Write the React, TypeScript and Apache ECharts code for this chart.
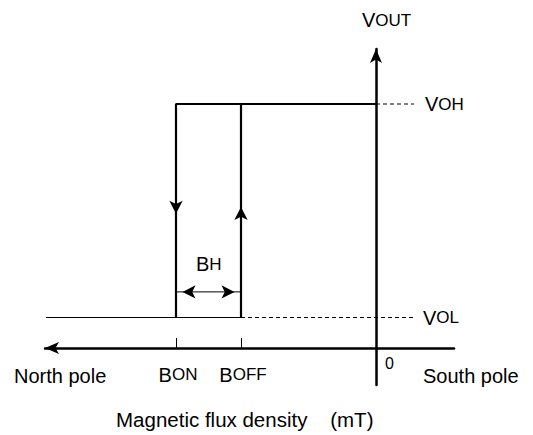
import React, { useEffect, useRef } from "react";
import * as echarts from "echarts";

// Schematic values (x: magnetic flux density, arbitrary mT units; y: output voltage, arbitrary units)
const B_ON = -10;
const B_OFF = -6.75;
const V_OL = 0.5;
const V_OH = 4;
const X_LINE_START = -16.5;
const DASH_END = 1.9;
const BH_LEVEL = 0.92;
const ARROW_DOWN_Y = 2.2;
const ARROW_UP_Y = 2.31;
const LABEL_LEVEL = -0.44;

const tickValues = [B_ON, B_OFF];
const tickLabels = ["BON", "BOFF"];

const lowPath = [
  [X_LINE_START, V_OL],
  [B_OFF, V_OL],
];
const onPath = [
  [B_ON, V_OL],
  [B_ON, V_OH],
  [0, V_OH],
];
const offPath = [
  [B_OFF, V_OL],
  [B_OFF, V_OH],
];
const ohDash = [
  [0, V_OH],
  [DASH_END, V_OH],
];
const olDash = [
  [B_OFF, V_OL],
  [DASH_END, V_OL],
];
const bhPath = [
  [B_ON, BH_LEVEL],
  [B_OFF, BH_LEVEL],
];

const FONT = '"Liberation Sans", Arial, Helvetica, sans-serif';
const BIG = 20;
const SMALL = 17;

const rich = {
  b: { fontFamily: FONT, fontSize: BIG, color: "#000" },
  s: { fontFamily: FONT, fontSize: SMALL, color: "#000" },
};

function smallCaps(label: string) {
  return `{b|${label[0]}}{s|${label.slice(1)}}`;
}

// pixel layout
const X0 = 376;
const PX_X = 20;
const Y0 = 348;
const PX_Y = 61;
const GRID_LEFT = 45;
const GRID_RIGHT_PX = 454;
const GRID_TOP = 49;
const GRID_BOTTOM_PX = 385;

export default function App() {
  const ref = useRef<HTMLDivElement>(null);
  useEffect(() => {
    if (!ref.current) return;
    const chart = echarts.init(ref.current, undefined, { renderer: "svg" });
    const lineBase = {
      type: "line",
      symbol: "none",
      silent: true,
      animation: false,
    };
    chart.setOption({
      animation: false,
      backgroundColor: "#fff",
      grid: {
        left: GRID_LEFT,
        right: 533 - GRID_RIGHT_PX,
        top: GRID_TOP,
        bottom: 435 - GRID_BOTTOM_PX,
      },
      xAxis: {
        type: "value",
        min: (GRID_LEFT - X0) / PX_X,
        max: (GRID_RIGHT_PX - X0) / PX_X,
        splitLine: { show: false },
        axisLine: {
          show: true,
          onZero: true,
          symbol: ["arrow", "none"],
          symbolSize: [9, 14],
          lineStyle: { color: "#000", width: 2.5 },
        },
        axisTick: {
          show: true,
          inside: true,
          length: 10,
          customValues: tickValues,
          lineStyle: { color: "#000", width: 1 },
        },
        axisLabel: { show: false },
      },
      yAxis: {
        type: "value",
        min: -(GRID_BOTTOM_PX - Y0) / PX_Y,
        max: (Y0 - GRID_TOP) / PX_Y,
        splitLine: { show: false },
        axisLine: {
          show: true,
          onZero: true,
          symbol: ["none", "arrow"],
          symbolSize: [9, 14],
          lineStyle: { color: "#000", width: 2.5 },
        },
        axisTick: { show: false },
        axisLabel: { show: false },
      },
      series: [
        { ...lineBase, data: lowPath, lineStyle: { color: "#000", width: 1 } },
        { ...lineBase, data: onPath, lineStyle: { color: "#000", width: 2.2 } },
        { ...lineBase, data: offPath, lineStyle: { color: "#000", width: 2.2 } },
        {
          ...lineBase,
          data: ohDash,
          lineStyle: { color: "#000", width: 1, type: [4, 3] },
          endLabel: {
            show: true,
            distance: 11,
            formatter: () => smallCaps("VOH"),
            rich,
          },
        },
        {
          ...lineBase,
          data: olDash,
          lineStyle: { color: "#000", width: 1, type: [4, 3] },
          endLabel: {
            show: true,
            distance: 9,
            formatter: () => smallCaps("VOL"),
            rich,
          },
        },
        { ...lineBase, data: bhPath, lineStyle: { color: "#000", width: 1 } },
        {
          type: "scatter",
          silent: true,
          symbol: "arrow",
          symbolSize: [10, 13],
          itemStyle: { color: "#000", opacity: 1 },
          data: [
            { value: [B_ON, ARROW_DOWN_Y], symbolRotate: 180 },
            { value: [B_OFF, ARROW_UP_Y], symbolRotate: 0 },
            { value: [B_ON + 6.5 / PX_X, BH_LEVEL], symbolRotate: 90 },
            { value: [B_OFF - 6.5 / PX_X, BH_LEVEL], symbolRotate: -90 },
          ],
        },
        {
          type: "scatter",
          silent: true,
          symbolSize: 0,
          itemStyle: { color: "#000", opacity: 1 },
          data: tickValues.map((v) => [v, LABEL_LEVEL]),
          label: {
            show: true,
            position: "inside",
            offset: [2, 0],
            color: "#000",
            textBorderWidth: 0,
            formatter: (p: any) => smallCaps(tickLabels[p.dataIndex]),
            rich,
          },
        },
      ],
      graphic: [
        {
          type: "text",
          left: 362,
          top: 10,
          style: { text: smallCaps("VOUT"), rich, fill: "#000" },
        },
        {
          type: "text",
          left: 196,
          top: 254,
          style: { text: smallCaps("BH"), rich, fill: "#000" },
        },
        {
          type: "text",
          left: 385,
          top: 355,
          style: { text: "0", font: `16px ${FONT}`, fill: "#000" },
        },
        {
          type: "text",
          left: 14,
          top: 366,
          style: { text: "North pole", font: `${BIG}px ${FONT}`, fill: "#000" },
        },
        {
          type: "text",
          left: 423,
          top: 366,
          style: { text: "South pole", font: `${BIG}px ${FONT}`, fill: "#000" },
        },
        {
          type: "text",
          left: 116,
          top: 409,
          style: {
            text: "Magnetic flux density    (mT)",
            font: `20.5px ${FONT}`,
            fill: "#000",
          },
        },
      ],
    });
    return () => chart.dispose();
  }, []);
  return (
    <div
      ref={ref}
      style={{ position: "absolute", left: 0, top: 0, width: 533, height: 435 }}
    />
  );
}
